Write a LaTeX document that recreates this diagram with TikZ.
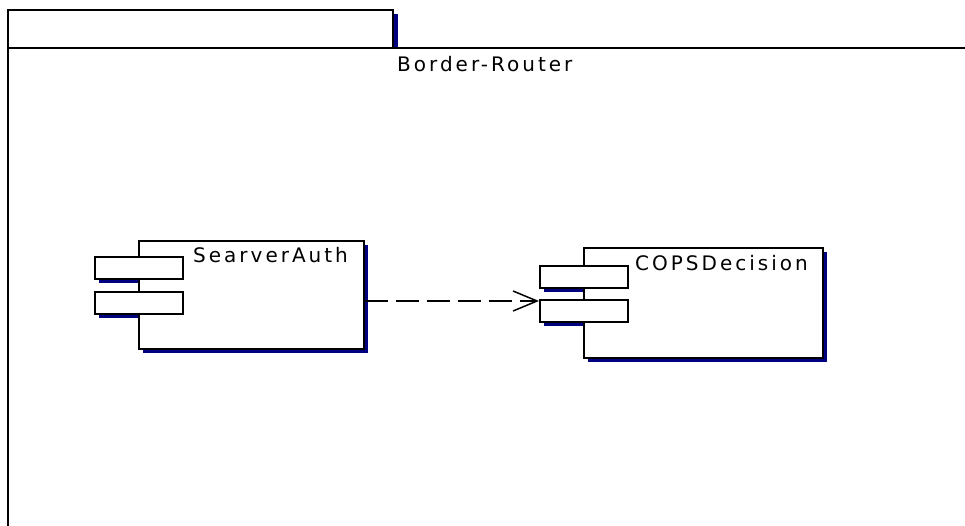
\documentclass[tikz,border=0pt]{standalone}
\usepackage{fontspec}
\usepackage{xcolor}
\usetikzlibrary{arrows.meta}
\newfontfamily\umlfont[LetterSpace=15]{DejaVu Sans}
\definecolor{umlnavy}{RGB}{0,0,128}

\begin{document}
\begin{tikzpicture}[
    x=1pt, y=-1pt,
    outline/.style={draw, line width=1.6pt},
    shade/.style={fill=umlnavy},
    compbox/.style={outline, fill=white, anchor=north west, inner sep=0pt},
    portbox/.style={outline, fill=white, anchor=north west, inner sep=0pt,
                    minimum width=88pt, minimum height=22pt},
    umltext/.style={anchor=base west, inner sep=0pt, font=\umlfont\fontsize{20}{22}\selectfont},
    dep/.style={line width=1.5pt, dash pattern=on 23pt off 8pt,
                -{Straight Barb[length=24pt, width=20pt, line width=1.5pt]}},
]
  \useasboundingbox (0,0) rectangle (965,526);
  \clip (0,0) rectangle (965,526);

  % package with its tab
  \fill[shade] (393,14) rectangle (398,48);
  \draw[outline, fill=white] (8,10) rectangle (393,48);
  \draw[outline] (8,48) rectangle (990,560);
  \node[umltext] (pkg) at (397,72) {Border-Router};

  % shadows
  \fill[shade] (143,245) rectangle (368,353);
  \fill[shade] (99,261) rectangle (187,283);
  \fill[shade] (99,296) rectangle (187,318);
  \fill[shade] (588,252) rectangle (827,362);
  \fill[shade] (544,270) rectangle (632,292);
  \fill[shade] (544,304) rectangle (632,326);

  % SearverAuth
  \node[compbox, minimum width=225pt, minimum height=108pt] (auth) at (138,240) {};
  \node[portbox] (authA) at (94,256) {};
  \node[portbox] (authB) at (94,291) {};
  \node[umltext] (authN) at (193,263) {SearverAuth};

  % COPSDecision
  \node[compbox, minimum width=239pt, minimum height=110pt] (cops) at (583,247) {};
  \node[portbox] (copsA) at (539,265) {};
  \node[portbox] (copsB) at (539,299) {};
  \node[umltext] (copsN) at (635,270) {COPSDecision};

  \coordinate (tip) at (539,301);
  \draw[dep] (auth.east |- tip) -- (tip);
\end{tikzpicture}
\end{document}
